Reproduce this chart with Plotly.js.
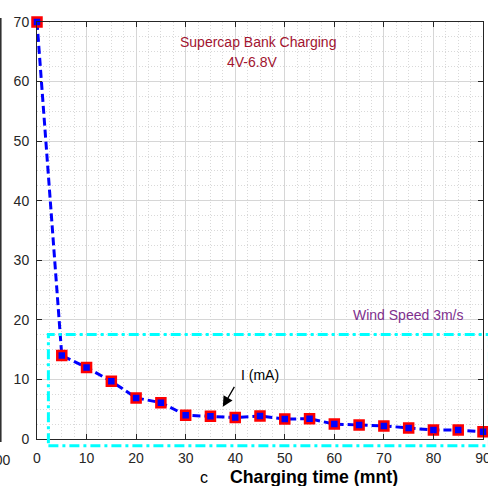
<!DOCTYPE html>
<html>
<head>
<meta charset="utf-8">
<script src="https://cdn.plot.ly/plotly-3.0.1.min.js"></script>
<style>html,body{margin:0;padding:0;background:#fff;}#chart{width:488px;height:486px;}</style>
</head>
<body>
<div id="chart"></div>
<script>
// Data
const chargingTime = [0, 5, 10, 15, 20, 25, 30, 35, 40, 45, 50, 55, 60, 65, 70, 75, 80, 85, 90];
const currentMA = [70, 14.0, 12.0, 9.7, 6.9, 6.1, 4.0, 3.8, 3.6, 3.85, 3.35, 3.4, 2.5, 2.35, 2.2, 1.85, 1.5, 1.5, 1.2];
const xTickVals = [0, 10, 20, 30, 40, 50, 60, 70, 80, 90];
const yTickVals = [0, 10, 20, 30, 40, 50, 60, 70];
const titleText = "Supercap Bank Charging";
const subtitleText = "4V-6.8V";
const windText = "Wind Speed 3m/s";
const seriesLabel = "I (mA)";
const xTitle = "Charging time (mnt)";

const xRange = [0, 90];
const yRange = [0, 70];
// Wind speed box, in data units (extends outside the axes)
const windBox = {x0: 2.3, x1: 91.3, y0: -1.12, y1: 17.55};

const W = 488, H = 486;
const M = {l: 37, r: 5, t: 22, b: 47};
const pw = W - M.l - M.r, ph = H - M.t - M.b;
const dx2p = v => (v - xRange[0]) / (xRange[1] - xRange[0]);
const dy2p = v => (v - yRange[0]) / (yRange[1] - yRange[0]);
const px2p = p => (p - M.l) / pw;
const py2p = p => (H - M.b - p) / ph;

const FONT = 'Liberation Sans, Arial, Helvetica, sans-serif';
const AX = '#262626';

const trace = {
  x: chargingTime,
  y: currentMA,
  type: 'scatter',
  mode: 'lines+markers',
  cliponaxis: false,
  line: {color: '#0000ff', width: 3, dash: '8px,4px'},
  marker: {symbol: 'square', size: 9, color: '#0000ff', line: {color: '#ff0000', width: 2.5}},
  hoverinfo: 'x+y'
};

const axisCommon = {
  ticks: 'inside', ticklen: 5, tickwidth: 1, tickcolor: AX,
  showline: true, linecolor: AX, linewidth: 1, mirror: 'ticks',
  showgrid: true, gridcolor: '#d6d6d6', gridwidth: 1,
  zeroline: false,
  ticklabeloverflow: 'allow',
  tickfont: {family: FONT, size: 14, color: AX},
  minor: {showgrid: true, gridcolor: '#d9d9d9', griddash: '1px,2px', gridwidth: 1, ticks: ''}
};

const txt = (x, y, text, color, extra) => Object.assign({
  xref: 'x', yref: 'y', x: x, y: y, text: text, showarrow: false,
  xanchor: 'center', yanchor: 'middle',
  font: {family: FONT, size: 14, color: color}
}, extra || {});

const layout = {
  width: W, height: H,
  margin: {l: M.l, r: M.r, t: M.t, b: M.b, pad: 0},
  paper_bgcolor: '#ffffff', plot_bgcolor: '#ffffff',
  showlegend: false,
  xaxis: Object.assign({}, axisCommon, {
    range: xRange, tickmode: 'array', tickvals: xTickVals,
    ticktext: xTickVals.map(String),
    minor: Object.assign({}, axisCommon.minor, {dtick: 2.5, tick0: 0}),
    ticklabelstandoff: 6
  }),
  yaxis: Object.assign({}, axisCommon, {
    range: yRange, tickmode: 'array', tickvals: yTickVals,
    ticktext: yTickVals.map(String),
    minor: Object.assign({}, axisCommon.minor, {dtick: 2.5, tick0: 0}),
    ticklabelstandoff: 4
  }),
  shapes: [
    {type: 'rect', xref: 'paper', yref: 'paper', layer: 'above',
     x0: dx2p(windBox.x0), x1: dx2p(windBox.x1), y0: dy2p(windBox.y0), y1: dy2p(windBox.y1),
     line: {color: '#00ffff', width: 3, dash: '10px,4px,3px,4px'}, fillcolor: 'rgba(0,0,0,0)'},
    // neighbouring panel's axis remnant at the left edge
    {type: 'line', xref: 'paper', yref: 'paper', layer: 'above',
     x0: px2p(0.8), x1: px2p(0.8), y0: py2p(18), y1: py2p(442),
     line: {color: AX, width: 1.5}}
  ],
  annotations: [
    txt(44.6, 66.7, titleText, '#a2142f'),
    txt(43.4, 63.3, subtitleText, '#a2142f'),
    txt(75.0, 20.8, windText, '#7e2f8e'),
    txt(45.0, 10.7, seriesLabel, '#000000'),
    {xref: 'x', yref: 'y', x: 37.5, y: 5.4, axref: 'x', ayref: 'y', ax: 40.0, ay: 9.0,
     text: '', showarrow: true, arrowhead: 2, arrowsize: 1.6, arrowwidth: 1.3, arrowcolor: '#000000'},
    {xref: 'paper', yref: 'paper', x: px2p(314), y: py2p(477), xanchor: 'center', yanchor: 'middle',
     text: '<b>' + xTitle + '</b>', showarrow: false,
     font: {family: FONT, size: 17.7, color: '#000000'}},
    {xref: 'paper', yref: 'paper', x: px2p(204), y: py2p(477), xanchor: 'center', yanchor: 'middle',
     text: 'c', showarrow: false, font: {family: FONT, size: 16, color: '#000000'}},
    {xref: 'paper', yref: 'paper', x: px2p(12.5), y: py2p(460), xanchor: 'right', yanchor: 'middle',
     text: '100', showarrow: false, font: {family: FONT, size: 14, color: AX}}
  ]
};

Plotly.newPlot('chart', [trace], layout, {staticPlot: true, displayModeBar: false});
</script>
</body>
</html>
